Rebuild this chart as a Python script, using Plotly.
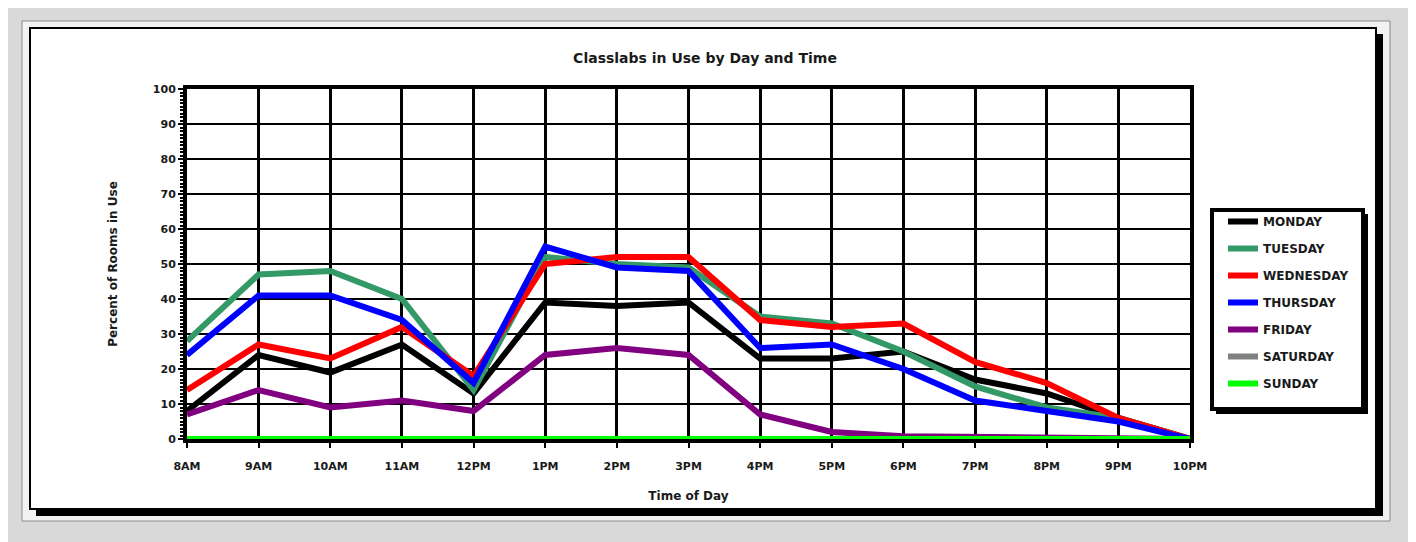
import plotly.graph_objects as go

# ---------------- data ----------------
hours = ["8AM", "9AM", "10AM", "11AM", "12PM", "1PM", "2PM", "3PM",
         "4PM", "5PM", "6PM", "7PM", "8PM", "9PM", "10PM"]
days = ["MONDAY", "TUESDAY", "WEDNESDAY", "THURSDAY", "FRIDAY", "SATURDAY", "SUNDAY"]

monday    = [8, 24, 19, 27, 13, 39, 38, 39, 23, 23, 25, 17, 13, 6, 0]
tuesday   = [28, 47, 48, 40, 14, 52, 50, 49, 35, 33, 25, 15, 9, 6, 0]
wednesday = [14, 27, 23, 32, 18, 50, 52, 52, 34, 32, 33, 22, 16, 6, 0]
thursday  = [24, 41, 41, 34, 16, 55, 49, 48, 26, 27, 20, 11, 8, 5, 0]
friday    = [7, 14, 9, 11, 8, 24, 26, 24, 7, 2, 0.8, 0.5, 0.5, 0, 0]
saturday  = [0, 0, 0, 0, 0, 0, 0, 0, 0, 0, 0, 0, 0, 0, 0]
sunday    = [0, 0, 0, 0, 0, 0.4, 0.4, 0.4, 0, 0, 0, 0, 0, 0, 0]

series = [monday, tuesday, wednesday, thursday, friday, saturday, sunday]
colors = ["#000000", "#339966", "#ff0000", "#0000ff", "#800080", "#808080", "#00ff00"]
yticks = list(range(0, 101, 10))

# ---------------- layout geometry (pixels, reference screen coords) ----------------
OFF = 8                       # page body margin
W, H = 1416 - OFF, 542 - OFF  # figure size
PL, PR, PT, PB = 187, 1190, 89, 439  # plot area in screen coords


def px(x):
    return (x - PL) / (PR - PL)


def py(y):
    return (PB - y) / (PB - PT)


FONT = "DejaVu Sans"

fig = go.Figure()
for name, vals, col in zip(days, series, colors):
    fig.add_trace(go.Scatter(
        x=hours, y=vals, name=name, mode="lines",
        line=dict(color=col, width=6),
        legendgroup=name,
    ))

shapes = [
    # outer thin frame
    dict(type="rect", xref="paper", yref="paper", layer="below",
         x0=px(22), x1=px(1390), y0=py(521), y1=py(21),
         line=dict(color="#8a8a8a", width=1), fillcolor="#f2f2f2"),
    # card shadow
    dict(type="rect", xref="paper", yref="paper", layer="below",
         x0=px(36), x1=px(1383), y0=py(516), y1=py(34),
         line=dict(width=0), fillcolor="#000000"),
    # card
    dict(type="rect", xref="paper", yref="paper", layer="below",
         x0=px(30), x1=px(1376), y0=py(509), y1=py(28),
         line=dict(color="#000000", width=2), fillcolor="#ffffff"),
    # legend shadow
    dict(type="rect", xref="paper", yref="paper", layer="below",
         x0=px(1216), x1=px(1368), y0=py(414), y1=py(214),
         line=dict(width=0), fillcolor="#000000"),
    # legend box
    dict(type="rect", xref="paper", yref="paper", layer="below",
         x0=px(1212), x1=px(1363), y0=py(409), y1=py(210),
         line=dict(color="#000000", width=4), fillcolor="#ffffff"),
]

fig.update_layout(
    width=W, height=H,
    margin=dict(l=PL - OFF, r=W - (PR - OFF), t=PT - OFF, b=H - (PB - OFF),
                autoexpand=False),
    paper_bgcolor="#d9d9d9",
    plot_bgcolor="#ffffff",
    shapes=shapes,
    showlegend=True,
    title=dict(
        text="Classlabs in Use by Day and Time",
        x=px(705), xref="paper", xanchor="center",
        y=1 - (58 - OFF) / H, yref="container", yanchor="middle",
        font=dict(family=FONT, size=14, color="#1a1a1a", weight="bold"),
    ),
    legend=dict(
        x=px(1223), y=py(207), xanchor="left", yanchor="top",
        bgcolor="rgba(0,0,0,0)", borderwidth=0,
        tracegroupgap=8,
        font=dict(family=FONT, size=12, color="#1a1a1a", weight="bold"),
    ),
    xaxis=dict(
        type="category", range=[0, 14],
        showgrid=True, gridcolor="#000000", gridwidth=3,
        showline=True, linecolor="#000000", linewidth=4, mirror=True,
        ticks="outside", ticklen=5, tickwidth=2, tickcolor="#000000",
        ticklabelstandoff=9,
        tickfont=dict(family=FONT, size=11, color="#1a1a1a", weight="bold"),
        title=dict(text="Time of Day", standoff=20,
                   font=dict(family=FONT, size=12, color="#1a1a1a", weight="bold")),
        zeroline=False, automargin=False,
    ),
    yaxis=dict(
        range=[0, 100], tickvals=yticks, ticktext=[str(v) for v in yticks],
        showgrid=True, gridcolor="#000000", gridwidth=2,
        showline=True, linecolor="#000000", linewidth=4, mirror=True,
        ticks="outside", ticklen=5, tickwidth=2, tickcolor="#000000",
        minor=dict(dtick=1, ticks="outside", ticklen=3, tickwidth=1.5,
                   tickcolor="#000000", showgrid=False),
        tickfont=dict(family=FONT, size=11, color="#1a1a1a", weight="bold"),
        title=dict(text="Percent of Rooms in Use", standoff=34,
                   font=dict(family=FONT, size=12, color="#1a1a1a", weight="bold")),
        zeroline=False, automargin=False,
    ),
)

fig.write_html("out.html")
